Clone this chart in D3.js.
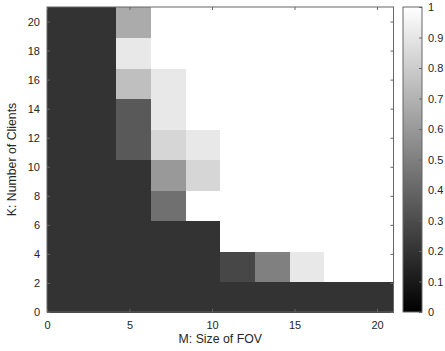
<!DOCTYPE html>
<html>
<head>
<meta charset="UTF-8">
<script src="https://d3js.org/d3.v7.min.js"></script>
<style>
  body { margin: 0; background: #fff; font-family: "Liberation Sans", Arial, sans-serif; }
</style>
</head>
<body>
<svg id="chart"></svg>
<script>
// grid: 10 x 10 cells over M 0..21 and K 0..21, rows listed bottom (K small) to top
const mEdges = [0, 2.1, 4.2, 6.3, 8.4, 10.5, 12.6, 14.7, 16.8, 18.9, 21];
const kEdges = [0, 2.1, 4.2, 6.3, 8.4, 10.5, 12.6, 14.7, 16.8, 18.9, 21];
const values = [
  [0.2, 0.2, 0.2, 0.2, 0.2, 0.2, 0.2, 0.2, 0.2, 0.2],
  [0.2, 0.2, 0.2, 0.2, 0.2, 0.28, 0.5, 0.91, 1, 1],
  [0.2, 0.2, 0.2, 0.2, 0.2, 1, 1, 1, 1, 1],
  [0.2, 0.2, 0.2, 0.44, 1, 1, 1, 1, 1, 1],
  [0.2, 0.2, 0.2, 0.6, 0.84, 1, 1, 1, 1, 1],
  [0.2, 0.2, 0.35, 0.84, 0.91, 1, 1, 1, 1, 1],
  [0.2, 0.2, 0.35, 0.91, 1, 1, 1, 1, 1, 1],
  [0.2, 0.2, 0.75, 0.91, 1, 1, 1, 1, 1, 1],
  [0.2, 0.2, 0.91, 1, 1, 1, 1, 1, 1, 1],
  [0.2, 0.2, 0.67, 1, 1, 1, 1, 1, 1, 1]
];
const xTicks = [0, 5, 10, 15, 20];
const yTicks = [0, 2, 4, 6, 8, 10, 12, 14, 16, 18, 20];
const cbTicks = [0, 0.1, 0.2, 0.3, 0.4, 0.5, 0.6, 0.7, 0.8, 0.9, 1];

const width = 445, height = 351;
const pLeft = 47, pRight = 393.5, pTop = 7, pBottom = 312;
const cbLeft = 403, cbRight = 422;
const axisColor = "#666";
const fontFam = "Liberation Sans, Arial, sans-serif";

const svg = d3.select("#chart").attr("width", width).attr("height", height);

const x = d3.scaleLinear().domain([0, 21]).range([pLeft, pRight]);
const y = d3.scaleLinear().domain([0, 21]).range([pBottom, pTop]);
const gray = v => d3.interpolateRgb("#000", "#fff")(v);

const cells = [];
values.forEach((row, r) => row.forEach((v, c) => cells.push({ r, c, v })));

svg.append("g").attr("shape-rendering", "crispEdges")
  .selectAll("rect")
  .data(cells)
  .join("rect")
  .attr("x", d => x(mEdges[d.c]))
  .attr("y", d => y(kEdges[d.r + 1]))
  .attr("width", d => x(mEdges[d.c + 1]) - x(mEdges[d.c]) + 0.5)
  .attr("height", d => y(kEdges[d.r]) - y(kEdges[d.r + 1]) + 0.5)
  .attr("fill", d => gray(d.v));

// axes, ticks inward, box on
const fs = "11px";
const xAxis = svg.append("g").attr("transform", `translate(0,${pBottom})`)
  .call(d3.axisBottom(x).tickValues(xTicks).tickSize(-3).tickPadding(9));
const yAxis = svg.append("g").attr("transform", `translate(${pLeft},0)`)
  .call(d3.axisLeft(y).tickValues(yTicks).tickSize(-3).tickPadding(7));
const xTop = svg.append("g").attr("transform", `translate(0,${pTop})`)
  .call(d3.axisTop(x).tickValues(xTicks).tickSize(-3).tickFormat(""));
const yRight = svg.append("g").attr("transform", `translate(${pRight},0)`)
  .call(d3.axisRight(y).tickValues(yTicks).tickSize(-3).tickFormat(""));

[xAxis, yAxis, xTop, yRight].forEach(g => {
  g.select(".domain").remove();
  g.selectAll(".tick line").attr("stroke", axisColor);
  g.selectAll("text").attr("font-size", fs).attr("font-family", fontFam).attr("fill", "#262626");
});
svg.append("rect")
  .attr("x", pLeft).attr("y", pTop)
  .attr("width", pRight - pLeft).attr("height", pBottom - pTop)
  .attr("fill", "none").attr("stroke", axisColor).attr("stroke-width", 1);

svg.append("text")
  .attr("x", (pLeft + pRight) / 2).attr("y", 343)
  .attr("text-anchor", "middle").attr("font-size", "12.3px").attr("font-family", fontFam)
  .attr("fill", "#262626")
  .text("M: Size of FOV");
svg.append("text")
  .attr("transform", `translate(16,${(pTop + pBottom) / 2}) rotate(-90)`)
  .attr("text-anchor", "middle").attr("font-size", "12.3px").attr("font-family", fontFam)
  .attr("fill", "#262626")
  .text("K: Number of Clients");

// colorbar
const defs = svg.append("defs");
const grad = defs.append("linearGradient").attr("id", "cb")
  .attr("x1", 0).attr("y1", 1).attr("x2", 0).attr("y2", 0);
grad.append("stop").attr("offset", 0).attr("stop-color", gray(0));
grad.append("stop").attr("offset", 1).attr("stop-color", gray(1));

const cy = d3.scaleLinear().domain([0, 1]).range([pBottom, pTop]);
svg.append("rect")
  .attr("x", cbLeft).attr("y", pTop)
  .attr("width", cbRight - cbLeft).attr("height", pBottom - pTop)
  .attr("fill", "url(#cb)").attr("stroke", axisColor);
const cbAxis = svg.append("g").attr("transform", `translate(${cbRight},0)`)
  .call(d3.axisRight(cy).tickValues(cbTicks).tickSize(-3).tickPadding(6).tickFormat(d3.format("")));
cbAxis.select(".domain").remove();
cbAxis.selectAll(".tick line").attr("stroke", axisColor);
cbAxis.selectAll("text").attr("font-size", fs).attr("font-family", fontFam).attr("fill", "#262626");
</script>
</body>
</html>
